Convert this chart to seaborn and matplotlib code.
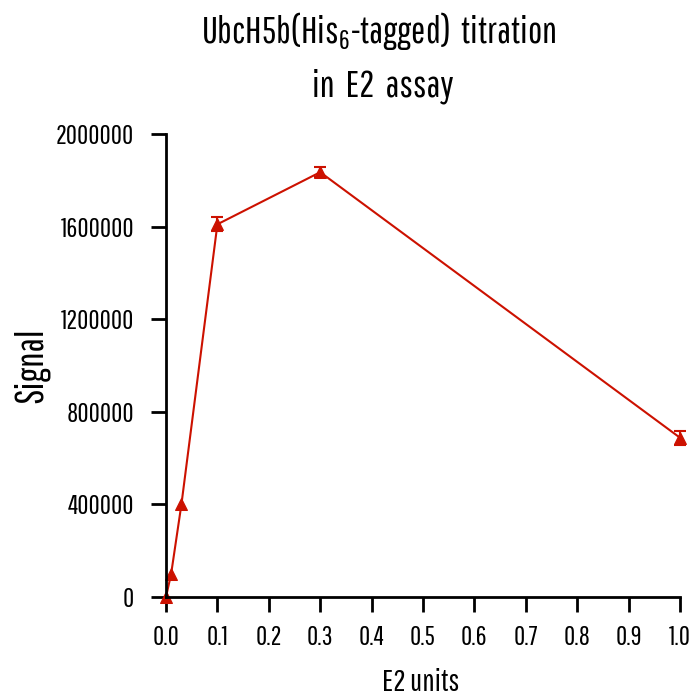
import matplotlib
matplotlib.use("Agg")
import matplotlib.pyplot as plt
from matplotlib import font_manager
import seaborn as sns
import pandas as pd

# Data
e2_units = [0.0, 0.01, 0.03, 0.1, 0.3, 1.0]
signal = [0, 100000, 400000, 1610000, 1835000, 688000]
signal_err = [0, 0, 0, 30000, 22000, 30000]
x_ticks = [0.0, 0.1, 0.2, 0.3, 0.4, 0.5, 0.6, 0.7, 0.8, 0.9, 1.0]
y_ticks = [0, 400000, 800000, 1200000, 1600000, 2000000]
title_lines = ["UbcH5b(His$_6$-tagged)  titration", "in  E2  assay"]
x_label = "E2 units"
y_label = "Signal"

sns.set_theme(style="ticks")
names = {f.name for f in font_manager.fontManager.ttflist}
prefs = ["Pathway Gothic One", "Sofia Sans Extra Condensed",
         "Fira Sans Extra Condensed", "Barlow Condensed", "Cabin Condensed",
         "DejaVu Sans"]
fam = [f for f in prefs if f in names][:1] + ["DejaVu Sans"]
plt.rcParams['font.family'] = fam
plt.rcParams['mathtext.fontset'] = 'custom'
plt.rcParams['mathtext.rm'] = fam[0]
plt.rcParams['mathtext.it'] = fam[0]
plt.rcParams['text.color'] = 'black'
plt.rcParams['axes.labelcolor'] = 'black'

W, H = 695, 698
fig = plt.figure(figsize=(W/100, H/100), dpi=100)
renderer = fig.canvas.get_renderer()


def fit_size(text, target_w, rotation=0):
    t = fig.text(0, 0, text, fontsize=20, rotation=rotation)
    bb = t.get_window_extent(renderer)
    t.remove()
    w = bb.height if rotation else bb.width
    return 20 * target_w / w


tick_fs = fit_size("2000000", 78)
xl_fs = fit_size(x_label, 77)
yl_fs = fit_size(y_label, 75)
title_fs = fit_size(title_lines[0], 356)

ax = fig.add_axes([166/W, 1-597/H, (680-166)/W, (597-134)/H])

df = pd.DataFrame({"E2 units": e2_units, "Signal": signal})
red = "#CC1100"
sns.lineplot(data=df, x="E2 units", y="Signal", ax=ax, color=red, lw=1.5,
             marker="^", markersize=8, markeredgecolor=red, markerfacecolor=red)
ex = [x for x, e in zip(e2_units, signal_err) if e > 0]
ey = [y for y, e in zip(signal, signal_err) if e > 0]
ee = [e for e in signal_err if e > 0]
ax.errorbar(ex, ey, yerr=ee, fmt="none", ecolor=red,
            elinewidth=1.5, capsize=4, capthick=1.5)

ax.set_xlim(0, 1.0)
ax.set_ylim(0, 2000000)
ax.set_xticks(x_ticks)
ax.set_xticklabels([f"{v:.1f}" for v in x_ticks])
ax.set_yticks(y_ticks)
ax.set_yticklabels([str(v) for v in y_ticks])
ax.tick_params(axis="both", length=11, width=2, colors="black", labelsize=tick_fs)
ax.tick_params(axis="x", pad=9)
ax.tick_params(axis="y", pad=12)
for s in ["top", "right"]:
    ax.spines[s].set_visible(False)
for s in ["left", "bottom"]:
    ax.spines[s].set_linewidth(2)
    ax.spines[s].set_color("black")
for c in ax.get_children():
    try:
        c.set_clip_on(False)
    except Exception:
        pass

ax.set_xlabel(x_label, fontsize=xl_fs)
ax.xaxis.label.set_va("baseline")
ax.xaxis.set_label_coords((421-166)/514, (597-691)/463)
ax.set_ylabel(y_label, fontsize=yl_fs)
ax.yaxis.label.set_va("center")
ax.yaxis.set_label_coords((31-166)/514, (597-365)/463)

fig.text(379/W, 1-43/H, title_lines[0], ha="center", va="baseline", fontsize=title_fs)
fig.text(383/W, 1-97/H, title_lines[1], ha="center", va="baseline", fontsize=title_fs)

fig.savefig("out.png", dpi=100, facecolor="white")
